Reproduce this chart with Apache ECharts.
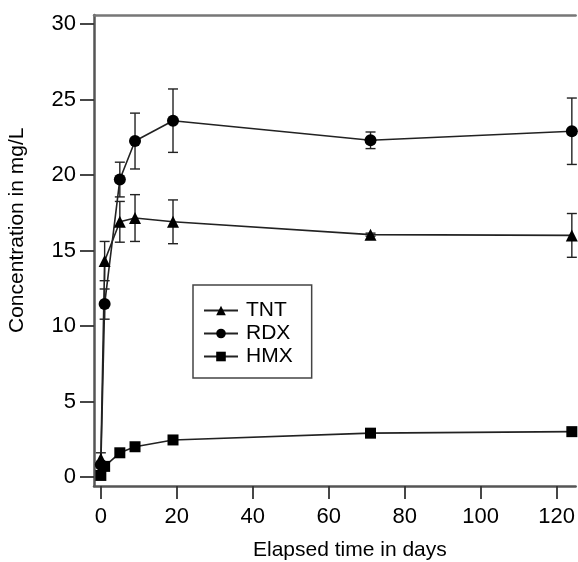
<!DOCTYPE html>
<html>
<head>
<meta charset="utf-8">
<script src="https://cdn.jsdelivr.net/npm/echarts@6/dist/echarts.min.js"></script>
<style>
  html, body { margin: 0; padding: 0; background: #fff; }
  #chart { width: 578px; height: 562px; }
</style>
</head>
<body>
<div id="chart"></div>
<script>
// elapsed time (days) for every sample
var days = [0, 1, 5, 9, 19, 71, 124];

// mean concentration, mg/L
var tnt = [1.2, 14.3, 16.9, 17.15, 16.9, 16.05, 16.0];
var rdx = [0.8, 11.45, 19.7, 22.25, 23.6, 22.3, 22.9];
var hmx = [0.1, 0.7, 1.6, 2.0, 2.45, 2.9, 3.0];

// error bar half widths
var tntErr = [0.4, 1.3, 1.35, 1.55, 1.45, 0.1, 1.45];
var rdxErr = [0, 1.0, 1.15, 1.85, 2.1, 0.55, 2.2];
var hmxErr = [0, 0, 0, 0, 0, 0, 0];

var xTicks = [0, 20, 40, 60, 80, 100, 120];
var yTicks = [0, 5, 10, 15, 20, 25, 30];

var font = 'Liberation Sans, Arial, sans-serif';
var ink = '#000';

function pairs(vals) {
    return days.map(function (d, i) { return [d, vals[i]]; });
}
function bars(vals, errs) {
    var out = [];
    for (var i = 0; i < days.length; i++) {
        if (errs[i] > 0) out.push([days[i], vals[i] - errs[i], vals[i] + errs[i]]);
    }
    return out;
}
function errorSeries(vals, errs) {
    return {
        type: 'custom',
        silent: true,
        z: 1,
        data: bars(vals, errs),
        renderItem: function (params, api) {
            var lo = api.coord([api.value(0), api.value(1)]);
            var hi = api.coord([api.value(0), api.value(2)]);
            var w = 5;
            var st = { stroke: '#222', lineWidth: 1.4 };
            return {
                type: 'group',
                children: [
                    { type: 'line', shape: { x1: lo[0], y1: lo[1], x2: hi[0], y2: hi[1] }, style: st },
                    { type: 'line', shape: { x1: lo[0] - w, y1: lo[1], x2: lo[0] + w, y2: lo[1] }, style: st },
                    { type: 'line', shape: { x1: hi[0] - w, y1: hi[1], x2: hi[0] + w, y2: hi[1] }, style: st }
                ]
            };
        }
    };
}
function lineSeries(name, vals, symbol, size) {
    return {
        name: name,
        type: 'line',
        data: pairs(vals),
        symbol: symbol,
        symbolSize: size,
        z: 3,
        itemStyle: { color: '#000' },
        lineStyle: { color: '#222', width: 1.6 }
    };
}

var chart = echarts.init(document.getElementById('chart'));
var axisLine = { show: true, onZero: false, lineStyle: { color: '#555', width: 2.5 } };
var tick = { color: '#333', width: 1.8 };

chart.setOption({
    animation: false,
    backgroundColor: '#fff',
    grid: { left: 94, right: 0, top: 15, bottom: 76 },
    legend: {
        data: ['TNT', 'RDX', 'HMX'],
        orient: 'vertical',
        left: 193,
        top: 285,
        itemWidth: 34,
        itemHeight: 12,
        itemGap: 2,
        padding: [15, 19, 11, 10],
        borderColor: '#444',
        borderWidth: 1.5,
        textStyle: { fontFamily: font, fontSize: 21, color: ink, padding: [0, 0, 0, 3] }
    },
    xAxis: [{
        type: 'value',
        min: -1.8,
        max: 125,
        axisLine: axisLine,
        splitLine: { show: false },
        axisTick: { show: true, customValues: xTicks, length: 13, lineStyle: tick },
        axisLabel: { customValues: xTicks, fontFamily: font, fontSize: 22, color: ink, margin: 20 }
    }, {
        type: 'value',
        position: 'top',
        min: -1.8,
        max: 125,
        axisLine: { show: true, onZero: false, lineStyle: { color: '#777', width: 2.5 } },
        axisTick: { show: false },
        axisLabel: { show: false },
        splitLine: { show: false }
    }],
    yAxis: {
        type: 'value',
        min: -0.6,
        max: 30.6,
        axisLine: axisLine,
        splitLine: { show: false },
        axisTick: { show: true, customValues: yTicks, length: 14, lineStyle: tick },
        axisLabel: { customValues: yTicks, fontFamily: font, fontSize: 22, color: ink, margin: 18 }
    },
    graphic: [{
        type: 'text',
        left: 253,
        top: 540,
        style: { text: 'Elapsed time in days', font: '21px ' + font, fill: ink }
    }, {
        type: 'text',
        rotation: Math.PI / 2,
        x: 7,
        y: 333,
        style: { text: 'Concentration in mg/L', font: '21px ' + font, fill: ink }
    }],
    series: [
        errorSeries(tnt, tntErr),
        errorSeries(rdx, rdxErr),
        errorSeries(hmx, hmxErr),
        lineSeries('TNT', tnt, 'triangle', 12),
        lineSeries('RDX', rdx, 'circle', 12),
        lineSeries('HMX', hmx, 'rect', 11)
    ]
});
</script>
</body>
</html>
